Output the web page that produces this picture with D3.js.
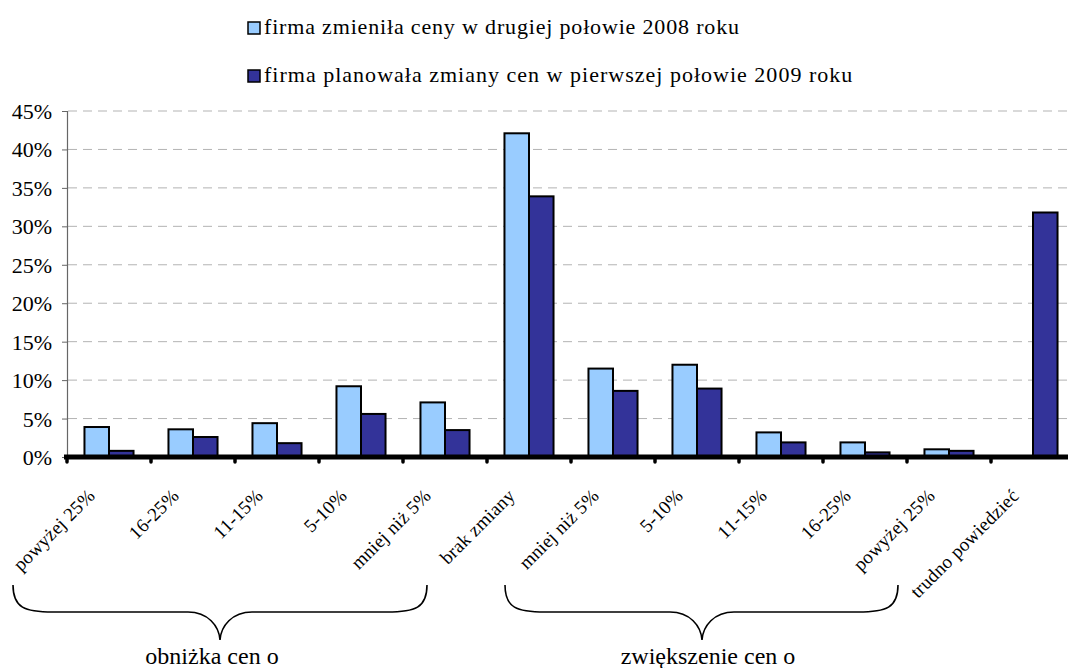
<!DOCTYPE html>
<html>
<head>
<meta charset="utf-8">
<script src="https://cdn.jsdelivr.net/npm/d3@7"></script>
<style>
  html, body { margin: 0; padding: 0; background: #fff; overflow: hidden; }
  text { font-family: "Liberation Serif", "DejaVu Serif", serif; }
</style>
</head>
<body>
<svg id="chart" width="1068" height="668"></svg>
<script>
// ---- data ----
const categories = [
  "powyżej 25%", "16-25%", "11-15%", "5-10%", "mniej niż 5%",
  "brak zmiany",
  "mniej niż 5%", "5-10%", "11-15%", "16-25%", "powyżej 25%",
  "trudno powiedzieć"
];
const seriesNames = [
  "firma zmieniła ceny w drugiej połowie 2008 roku",
  "firma planowała zmiany cen w pierwszej połowie 2009 roku"
];
const changed2008 = [3.9, 3.6, 4.4, 9.2, 7.1, 42.1, 11.5, 12.0, 3.2, 1.9, 1.0, 0.0];
const planned2009 = [0.8, 2.6, 1.8, 5.6, 3.5, 33.9, 8.6, 8.9, 1.9, 0.6, 0.8, 31.8];
const yTicks = [0, 5, 10, 15, 20, 25, 30, 35, 40, 45];
const groupLabels = ["obniżka cen o", "zwiększenie cen o"];
const groupRanges = [[0, 4], [6, 10]];
const colors = ["#99CCFF", "#333399"];

// ---- layout ----
const FONT = "Liberation Serif";
const svg = d3.select("#chart");
const plotLeft = 67, plotTop = 111, plotBottom = 457, plotRight = 1075;

const x0 = d3.scaleBand().domain(d3.range(categories.length)).range([plotLeft, plotRight]).padding(0);
const step = x0.step();
const x1 = d3.scaleBand().domain([0, 1]).range([step * 0.208, step * 0.792]).padding(0);
const y = d3.scaleLinear().domain([0, 45]).range([plotBottom, plotTop]);

// gridlines
svg.append("g").selectAll("line").data(yTicks.filter(d => d > 0)).join("line")
  .attr("x1", plotLeft + 1).attr("x2", plotRight)
  .attr("y1", d => y(d)).attr("y2", d => y(d))
  .attr("stroke", "#b3b3b3").attr("stroke-width", 1).attr("stroke-dasharray", "9,6");

// y axis
const yAxis = d3.axisLeft(y).tickValues(yTicks).tickSize(5).tickPadding(10).tickFormat(d => d + "%");
const gy = svg.append("g").attr("transform", `translate(${plotLeft},0)`).call(yAxis)
  .attr("font-family", FONT).attr("font-size", 22);
gy.select(".domain").attr("stroke", "#666").attr("stroke-width", 1.2);
gy.selectAll(".tick line").attr("stroke", "#666");
gy.selectAll(".tick text").attr("font-family", FONT).attr("font-size", 22).attr("fill", "#000")
  .attr("dy", "0.34em");

// bars
const data = categories.map((c, i) => ({ i, vals: [changed2008[i], planned2009[i]] }));
const groups = svg.append("g").selectAll("g").data(data).join("g")
  .attr("transform", d => `translate(${x0(d.i)},0)`);
groups.selectAll("rect").data(d => d.vals.map((v, s) => ({ v, s }))).join("rect")
  .filter(d => d.v > 0)
  .attr("x", d => x1(d.s))
  .attr("width", x1.bandwidth())
  .attr("y", d => y(d.v))
  .attr("height", d => y(0) - y(d.v))
  .attr("fill", d => colors[d.s])
  .attr("stroke", "#000").attr("stroke-width", 2);

// x axis: thick line + tick stubs
const xAxis = d3.axisBottom(x0).tickSize(0).tickFormat("");
const gx = svg.append("g").attr("transform", `translate(0,${plotBottom})`).call(xAxis);
gx.select(".domain").remove();
gx.append("line").attr("x1", plotLeft - 3).attr("x2", plotRight).attr("y1", 0).attr("y2", 0)
  .attr("stroke", "#000").attr("stroke-width", 5);
gx.selectAll(".tickstub").data(d3.range(categories.length + 1)).join("line")
  .attr("class", "tickstub")
  .attr("x1", d => plotLeft + d * step).attr("x2", d => plotLeft + d * step)
  .attr("y1", 0).attr("y2", 5)
  .attr("stroke", "#000").attr("stroke-width", 3.5).attr("stroke-linecap", "round");

// x labels rotated
svg.append("g").selectAll("text").data(categories).join("text")
  .attr("transform", (d, i) => `translate(${x0(i) + step / 2 - 13},497) rotate(-45)`)
  .attr("text-anchor", "end")
  .attr("font-family", FONT)
  .attr("font-size", 19)
  .attr("letter-spacing", 0.2)
  .attr("fill", "#000")
  .text(d => d);

// legend
const legendWidths = [475, 588];
const legend = svg.append("g");
seriesNames.forEach((name, s) => {
  const ly = 34 + s * 48;
  legend.append("rect").attr("x", 248).attr("y", ly - 12).attr("width", 12).attr("height", 12)
    .attr("fill", colors[s]).attr("stroke", "#000").attr("stroke-width", 1.5);
  const t = legend.append("text").attr("x", 264).attr("y", ly).attr("font-family", FONT)
    .attr("font-size", 22).attr("fill", "#000").text(name);
  const w = t.node().getComputedTextLength();
  const extra = (legendWidths[s] - w) / (name.length - 1);
  if (extra > 0) t.attr("letter-spacing", extra.toFixed(2));
});

// braces
const braceOffsets = [[-54, -60, -57], [-66, -93, -79]];
const labelShift = [-8, 6];
groupRanges.forEach((r, g) => {
  const xa = x0(r[0]) + braceOffsets[g][0];
  const xb = x0(r[1]) + step + braceOffsets[g][1];
  const xm = (x0(r[0]) + x0(r[1]) + step) / 2 + braceOffsets[g][2];
  const top = 585, mid = 612, tip = 640;
  const p = d3.path();
  p.moveTo(xa, top);
  p.bezierCurveTo(xa, mid - 4, xa + 12, mid, xa + 40, mid);
  p.lineTo(xm - 32, mid);
  p.bezierCurveTo(xm - 12, mid, xm - 1, tip - 14, xm, tip);
  p.bezierCurveTo(xm + 1, tip - 14, xm + 12, mid, xm + 32, mid);
  p.lineTo(xb - 40, mid);
  p.bezierCurveTo(xb - 12, mid, xb, mid - 4, xb, top);
  svg.append("path").attr("d", p.toString()).attr("fill", "none").attr("stroke", "#000").attr("stroke-width", 1.6);
  svg.append("text").attr("x", xm + labelShift[g]).attr("y", 664).attr("text-anchor", "middle")
    .attr("font-family", FONT).attr("font-size", 24).attr("fill", "#000").text(groupLabels[g]);
});
</script>
</body>
</html>
